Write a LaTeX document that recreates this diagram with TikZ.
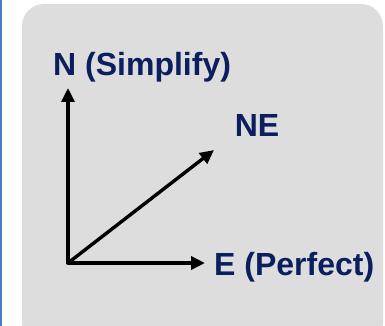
\documentclass[tikz,border=0pt]{standalone}
\usepackage{fontspec}
\setmainfont{Liberation Sans}
\usetikzlibrary{arrows.meta,positioning}
\definecolor{dirNavy}{HTML}{0B1F5E}
\definecolor{dirPanel}{HTML}{DDDDDD}
\definecolor{dirEdge}{HTML}{4A7CC9}

\begin{document}
\begin{tikzpicture}[x=1pt,y=-1pt,font=\bfseries\fontsize{32}{36}\selectfont]
  \tikzset{dirlabel/.style={text=dirNavy,inner sep=0pt},
    dirarrow/.style={-{Triangle[length=14pt,width=13pt]},line width=3.4pt,line cap=round}}
  \useasboundingbox (0,0) rectangle (385,326);
  \clip (0,0) rectangle (385,326);
  \fill[dirEdge] (0,0) rectangle (1.5,326);
  \fill[dirPanel,rounded corners=22pt] (22,4) rectangle (383,345);
  \coordinate (origin) at (68,263);
  \coordinate (ntip) at (68,88);
  \coordinate (etip) at (205,263);
  \coordinate (netip) at (214,150);
  \node[dirlabel,anchor=base west] (nlabel) at (53,76) {N (Simplify)};
  \node[dirlabel,anchor=base] (nelabel) at (257,136) {NE};
  \node[dirlabel,anchor=base west] (elabel) at (214,275) {E (Perfect)};
  \draw[dirarrow] (origin) -- (ntip);
  \draw[dirarrow] (origin) -- (netip);
  \draw[dirarrow] (origin) -- (etip);
\end{tikzpicture}
\end{document}
